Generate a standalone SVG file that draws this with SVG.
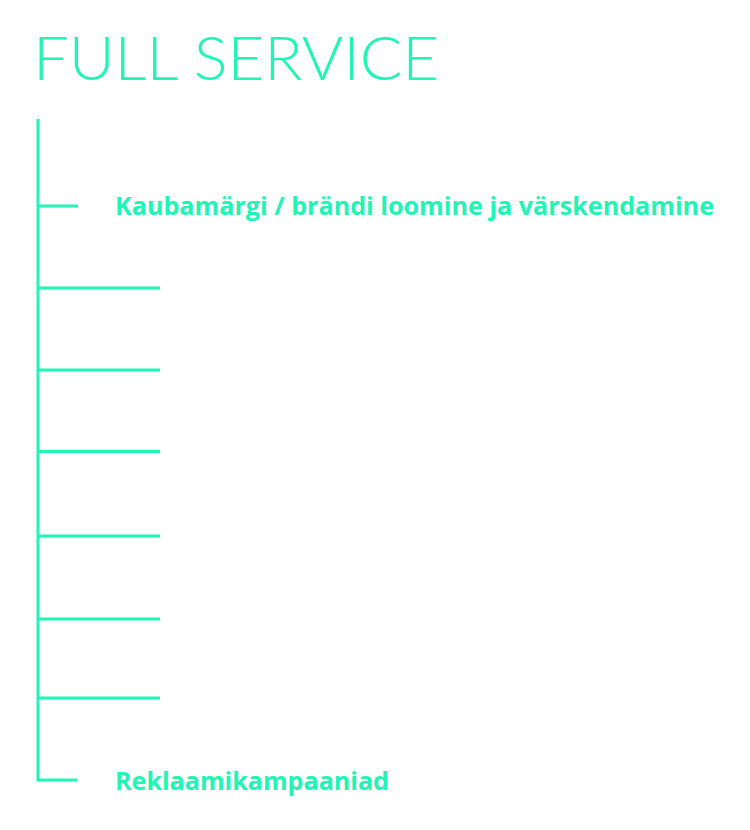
<svg xmlns="http://www.w3.org/2000/svg" width="750" height="830" viewBox="0 0 750 830">
  <style>
    .ln { stroke: #1ff5b4; stroke-width: 3; fill: none; }
    .lbl { font-family: "Open Sans", "Noto Sans", sans-serif; font-weight: 700; font-size: 25px; fill: #1ff5b4; }
    .title { font-family: "Lato", "Inter", sans-serif; font-weight: 300; font-size: 61px; fill: #1ff5b4; }
  </style>
  <rect width="750" height="830" fill="#ffffff"/>
  <g id="title">
    <text class="title" x="33" y="80" textLength="406" lengthAdjust="spacingAndGlyphs">FULL SERVICE</text>
  </g>
  <g id="connectors">
    <line class="ln" x1="38" y1="119" x2="38" y2="781.5"/>
    <line class="ln" x1="38" y1="206" x2="78" y2="206"/>
    <line class="ln" x1="38" y1="288" x2="160" y2="288"/>
    <line class="ln" x1="38" y1="370" x2="160" y2="370"/>
    <line class="ln" x1="38" y1="451.5" x2="160" y2="451.5"/>
    <line class="ln" x1="38" y1="536" x2="160" y2="536"/>
    <line class="ln" x1="38" y1="619" x2="160" y2="619"/>
    <line class="ln" x1="38" y1="698" x2="160" y2="698"/>
    <line class="ln" x1="38" y1="780" x2="77" y2="780"/>
  </g>
  <g id="node-branding">
    <text class="lbl" x="115" y="215" textLength="599" lengthAdjust="spacingAndGlyphs">Kaubamärgi / brändi loomine ja värskendamine</text>
  </g>
  <g id="node-campaigns">
    <text class="lbl" x="115" y="790" textLength="274" lengthAdjust="spacingAndGlyphs">Reklaamikampaaniad</text>
  </g>
</svg>
